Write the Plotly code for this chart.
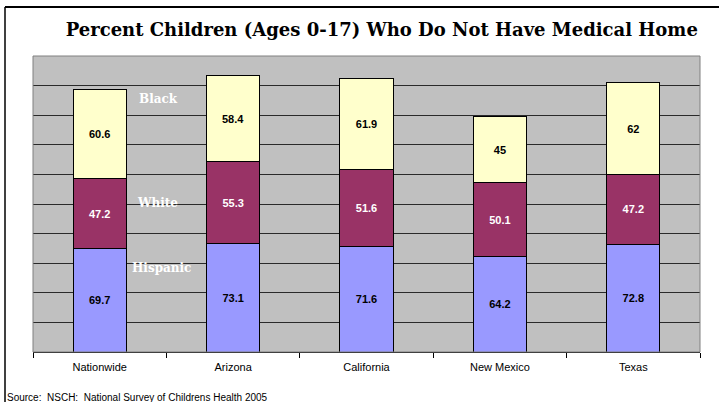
import plotly.graph_objects as go

categories = ["Nationwide", "Arizona", "California", "New Mexico", "Texas"]
hispanic = [69.7, 73.1, 71.6, 64.2, 72.8]
white = [47.2, 55.3, 51.6, 50.1, 47.2]
black = [60.6, 58.4, 61.9, 45, 62]
series_names = ["Hispanic", "White", "Black"]

title = "Percent Children (Ages 0-17) Who Do Not Have Medical Home"
source = "Source:  NSCH:  National Survey of Childrens Health 2005"

colors = ["#9999FF", "#993366", "#FFFFCC"]
textcolors = ["#000000", "#FFFFFF", "#000000"]

fig = go.Figure()
for name, vals, col, tc in zip(series_names, [hispanic, white, black], colors, textcolors):
    fig.add_trace(go.Bar(
        x=categories, y=vals, name=name,
        marker=dict(color=col, line=dict(color="#000000", width=1)),
        text=["<b>" + f"{v:g}" + "</b>" for v in vals], textposition="inside",
        insidetextanchor="middle", textangle=0,
        textfont=dict(family="Arial, Liberation Sans", size=11, color=tc),
        width=0.4,
    ))

fig.update_layout(
    barmode="stack",
    width=719, height=402,
    margin=dict(l=33, r=19, t=56, b=50),
    paper_bgcolor="#FFFFFF",
    plot_bgcolor="#C0C0C0",
    showlegend=False,
    uniformtext=dict(minsize=8, mode="show"),
    title=dict(text="<b>" + title + "</b>", x=0.531, xanchor="center", y=0.925, yanchor="middle",
               font=dict(family="DejaVu Serif", size=18, color="#000000")),
    xaxis=dict(showline=True, linecolor="#000000", linewidth=1, ticks="outside", tickson="boundaries",
               ticklen=5, tickcolor="#000000", ticklabelstandoff=5,
               tickfont=dict(family="Arial, Liberation Sans", size=11, color="#000000"),
               showgrid=False),
    yaxis=dict(range=[0, 200], dtick=20, showticklabels=False, showgrid=True,
               gridcolor="#2a2a2a", gridwidth=1, zeroline=False, showline=False),
)

# plot area border
fig.add_shape(type="rect", xref="paper", yref="paper", x0=0, y0=0, x1=1, y1=1,
              line=dict(color="#808080", width=1), layer="above")
# chart border (left and top)
fig.add_shape(type="line", xref="paper", yref="paper", x0=-28/667, x1=-28/667, y0=1 + 49/296, y1=-50/296,
              line=dict(color="#000000", width=1.5))
fig.add_shape(type="line", xref="paper", yref="paper", x0=-28/667, x1=1 + 19/667, y0=1 + 49/296, y1=1 + 49/296,
              line=dict(color="#000000", width=2))

label_font = dict(family="DejaVu Serif", size=12, color="#FFFFFF")
for name, yv, xv in [("Black", 171, 0.44), ("White", 101, 0.43), ("Hispanic", 57, 0.46)]:
    fig.add_annotation(x=xv, y=yv, xref="x", yref="y", text="<b>" + name + "</b>",
                       showarrow=False, font=label_font)

fig.add_annotation(x=-28/667, y=-45/296, xref="paper", yref="paper", xanchor="left", yanchor="middle",
                   text=source, showarrow=False,
                   font=dict(family="Arial, Liberation Sans", size=10, color="#000000"))

fig.write_html("out.html", config={"displayModeBar": False},
               post_script="document.body.style.margin='0';document.body.style.padding='0';")
